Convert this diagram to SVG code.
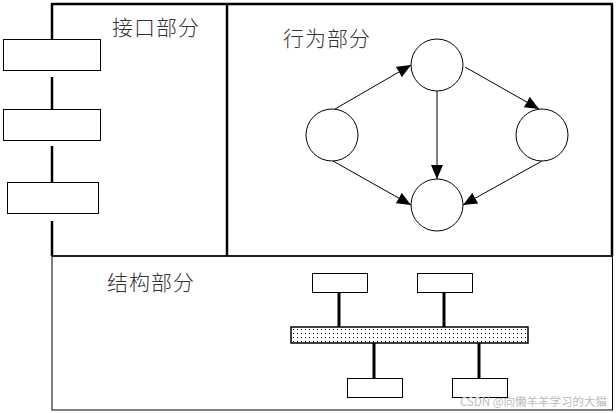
<svg xmlns="http://www.w3.org/2000/svg" width="616" height="413" viewBox="0 0 616 413">
<style>
.lbl{font-family:"Noto Sans CJK SC","Liberation Serif",serif;font-size:21px;font-weight:300;fill:#333;letter-spacing:1px}
.box{fill:#fff;stroke:#000;stroke-width:1}
.thick{stroke:#000;stroke-width:2.5;fill:none}
.thin{stroke:#000;stroke-width:1;fill:none}
.circ{fill:#fff;stroke:#000;stroke-width:1}
.arr{stroke:#000;stroke-width:1;fill:none;marker-end:url(#ah)}
.bar{stroke:#000;stroke-width:3}
.wm{font-family:"Noto Sans CJK SC","Liberation Sans",sans-serif;font-size:11.5px;fill:#bbb}
</style>
<defs>
<marker id="ah" markerUnits="userSpaceOnUse" markerWidth="14" markerHeight="12" refX="14" refY="6" orient="auto">
<path d="M0,0 L14,6 L0,12 Z" fill="#000"/>
</marker>
<pattern id="dots" patternUnits="userSpaceOnUse" width="4" height="4">
<rect x="1" y="1" width="1" height="1" fill="#000"/>
</pattern>
</defs>
<rect width="616" height="413" fill="#fff"/>
<g id="frames">
<rect x="52" y="256" width="560.5" height="154" class="thin"/>
<line x1="52" y1="4" x2="613" y2="4" class="thick"/>
<line x1="612" y1="4" x2="612" y2="256" class="thick"/>
<line x1="227" y1="4" x2="227" y2="256" class="thick"/>
<line x1="52" y1="256" x2="612" y2="256" stroke="#000" stroke-width="1.5"/>
</g>
<g id="connectors">
<line x1="52" y1="3" x2="52" y2="39" class="thick"/>
<line x1="52" y1="77" x2="52" y2="109" class="thick"/>
<line x1="52" y1="146" x2="52" y2="182" class="thick"/>
<line x1="52" y1="221" x2="52" y2="256" class="thick"/>
<line x1="335" y1="109" x2="411" y2="65" class="arr"/>
<line x1="465" y1="67" x2="539" y2="109" class="arr"/>
<line x1="437" y1="91" x2="437" y2="179" class="arr"/>
<line x1="333" y1="161" x2="411" y2="205" class="arr"/>
<line x1="542" y1="161" x2="463" y2="205" class="arr"/>
<line x1="339" y1="292" x2="339" y2="327" class="bar"/>
<line x1="444" y1="292" x2="444" y2="327" class="bar"/>
<line x1="374" y1="343" x2="374" y2="378" class="bar"/>
<line x1="479" y1="343" x2="479" y2="378" class="bar"/>
</g>
<g id="label-interface"><text class="lbl" x="112" y="35">接口部分</text></g>
<g id="label-behavior"><text class="lbl" x="283" y="46">行为部分</text></g>
<g id="label-structure"><text class="lbl" x="107" y="290">结构部分</text></g>
<g id="if-box1"><rect x="3.5" y="39.5" width="97" height="31" class="box"/></g>
<g id="if-box2"><rect x="3.5" y="109.5" width="97" height="31" class="box"/></g>
<g id="if-box3"><rect x="7.5" y="182.5" width="91" height="31" class="box"/></g>
<g id="state-top"><circle cx="437" cy="65" r="26" class="circ"/></g>
<g id="state-left"><circle cx="332" cy="135" r="26" class="circ"/></g>
<g id="state-right"><circle cx="542" cy="135" r="26" class="circ"/></g>
<g id="state-bottom"><circle cx="437" cy="205" r="26" class="circ"/></g>
<g id="bus"><rect x="291" y="327" width="237" height="16" fill="url(#dots)" stroke="#000" stroke-width="1.5"/></g>
<g id="st-box1"><rect x="312.5" y="273.5" width="55" height="19" class="box"/></g>
<g id="st-box2"><rect x="417.5" y="273.5" width="55" height="19" class="box"/></g>
<g id="st-box3"><rect x="347.5" y="378.5" width="55" height="19" class="box"/></g>
<g id="st-box4"><rect x="452.5" y="378.5" width="55" height="19" class="box"/></g>
<text class="wm" x="460" y="406">CSDN @向懒羊羊学习的大猫</text>
</svg>
